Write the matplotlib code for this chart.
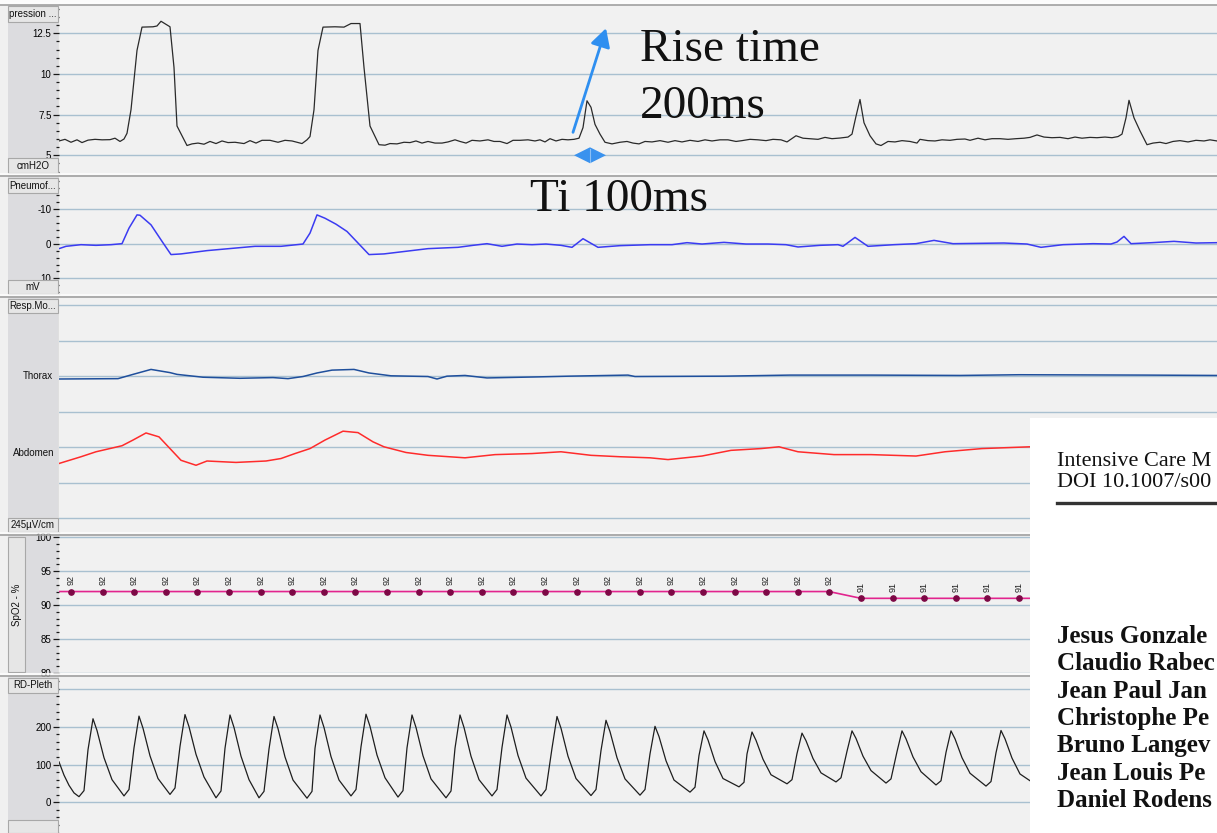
# ------------------------------------------------------------------------ #
#                                  MODULES                                 #
# ------------------------------------------------------------------------ #

import numpy as np
import matplotlib.pyplot as plt
from matplotlib.patches import Rectangle, Polygon
from matplotlib.ticker  import MultipleLocator

plt.rcParams['font.family'] = ['Liberation Sans', 'DejaVu Sans']

# ---------------------------------------------------------------------------- #
#                                   VARIABLES                                  #
# ---------------------------------------------------------------------------- #

W, H      = 1217, 833
N_SAMPLES = 1158

PLOT_BG = '#f1f1f1'
COL_BG  = '#dcdcdf'
BOX_BG  = '#e6e6e6'
GRID    = '#a9c0d0'
UI_FONT = 7

# mask pressure [cmH2O]
pres_t = [0, 6, 12, 18, 23, 29, 36, 43, 51, 56, 61, 65,
          68, 72, 78, 83, 94, 98, 102, 107, 111, 115, 118, 128,
          133, 139, 145, 151, 157, 163, 169, 176, 185, 191, 197, 203, 211, 219, 226, 233, 238, 243, 248,
          251, 255, 259, 264, 276, 285, 292, 301, 305, 311, 320, 326,
          331, 338, 345, 351, 357, 363, 369, 376, 383, 389, 396, 401, 407, 413, 421, 429,
          435, 441, 448, 454, 461, 469, 476, 481, 486, 491, 497, 503, 509, 515, 520,
          524, 528, 532, 536, 541, 546, 553, 561, 568, 574, 580,
          586, 593, 601, 609, 616, 623, 631, 639, 646, 653, 661, 669, 677, 683,
          691, 699, 707, 714, 722, 728, 737, 744, 751, 759, 766, 773, 781, 789,
          793, 797, 801, 805, 811, 817, 822,
          829, 836, 843, 851, 858, 861, 869, 876, 883, 891, 898, 906, 911, 919, 926, 933, 941,
          949, 957, 965, 971, 978, 985, 993, 1001, 1009, 1016, 1023, 1031, 1038, 1046, 1053, 1059,
          1063, 1067, 1070, 1075, 1081, 1088,
          1094, 1101, 1107, 1114, 1121, 1129, 1137, 1145, 1151, 1158]
pres_v = [5.88, 5.98, 5.80, 5.95, 5.78, 5.93, 5.98, 5.95, 5.96, 6.05, 5.85, 6.00,
          6.35, 7.80, 11.45, 12.88, 12.90, 12.95, 13.24, 13.05, 12.90, 10.40, 6.80, 5.60,
          5.70, 5.75, 5.68, 5.85, 5.72, 5.88, 5.78, 5.80, 5.72, 5.90, 5.75, 5.92, 5.92, 5.80, 5.92, 5.88, 5.80, 5.72, 5.95,
          6.15, 7.80, 11.45, 12.88, 12.90, 12.88, 13.10, 13.10, 10.40, 6.80, 5.65, 5.62,
          5.72, 5.70, 5.80, 5.78, 5.88, 5.75, 5.85, 5.75, 5.75, 5.82, 5.95, 5.85, 5.75, 5.92, 5.88, 5.95,
          5.85, 5.85, 5.72, 5.92, 5.92, 5.95, 5.88, 5.95, 5.82, 6.02, 5.88, 5.98, 5.95, 5.98, 6.05,
          6.70, 8.35, 7.95, 6.90, 6.30, 5.80, 5.70, 5.80, 5.85, 5.75, 5.70,
          5.85, 5.82, 5.90, 5.80, 5.90, 5.82, 5.92, 5.85, 5.95, 5.88, 5.95, 5.95, 5.85, 5.90,
          5.98, 5.95, 5.90, 5.98, 5.95, 5.82, 6.20, 6.05, 6.02, 5.98, 6.10, 6.02, 6.06, 6.12,
          6.30, 7.40, 8.43, 7.00, 6.20, 5.70, 5.60,
          5.85, 5.82, 5.90, 5.85, 5.75, 5.98, 5.90, 5.88, 5.95, 5.92, 5.98, 6.00, 5.92, 6.05, 5.95, 6.02, 6.02,
          5.98, 6.02, 6.05, 6.10, 6.25, 6.12, 6.08, 6.10, 6.02, 6.12, 6.05, 6.10, 6.08, 6.12, 6.08, 6.15,
          6.30, 7.30, 8.38, 7.30, 6.50, 5.65,
          5.75, 5.80, 5.72, 5.85, 5.90, 5.82, 5.92, 5.88, 5.95, 5.88]

# pneumotachograph [mV]
pneu_t = [0, 7, 22, 37, 52, 63, 70, 78, 81, 92, 103, 112, 122, 148, 170, 196, 222,
          244, 251, 258, 266, 277, 288, 299, 310, 325, 347, 369, 399, 414, 428, 443,
          458, 473, 487, 502, 513, 524, 539, 561, 591, 613, 628, 643, 665, 687, 709,
          727, 739, 761, 779, 784, 796, 809, 835, 857, 875, 894, 945, 968, 982, 1004,
          1034, 1052, 1058, 1065, 1072, 1093, 1115, 1137, 1158]
pneu_v = [1.43, 0.76, 0.29, 0.48, 0.29, 0.00, -4.48, -8.29, -8.19, -5.43, -0.67, 3.14, 2.95, 2.00, 1.43, 0.76, 0.76,
          0.10, -3.05, -8.29, -7.33, -5.62, -3.52, -0.19, 3.14, 2.95, 2.19, 1.43, 1.05, 0.48, 0.00, 0.76,
          0.10, 0.29, 0.10, 0.48, 1.05, -1.43, 1.05, 0.57, 0.29, 0.29, -0.29, 0.10, -0.38, 0.10, 0.10,
          0.29, 0.95, 0.48, 0.29, 0.76, -1.81, 0.76, 0.29, 0.00, -0.95, 0.00, -0.19, 0.10, 1.05, 0.29,
          0.00, 0.10, -0.48, -2.10, 0.00, -0.29, -0.67, -0.19, -0.29]

# respiratory bands, in grid divisions of 245 uV/cm
thorax_t = [0, 59, 74, 92, 111, 118, 144, 181, 214, 229, 244, 258, 273, 295, 310, 332,
            369, 378, 388, 406, 428, 480, 510, 569, 576, 665, 731, 812, 901, 960, 1086, 1158]
thorax_v = [3.92, 3.93, 4.05, 4.19, 4.10, 4.05, 3.97, 3.94, 3.96, 3.93, 3.99, 4.09, 4.17, 4.19, 4.09, 4.01,
            3.99, 3.92, 4.00, 4.02, 3.95, 3.98, 4.00, 4.03, 3.99, 4.00, 4.03, 4.03, 4.02, 4.04, 4.03, 4.02]

abdomen_t = [0, 22, 37, 63, 74, 87, 100, 111, 122, 137, 148, 177, 207, 222, 236, 251, 266, 284,
             299, 314, 325, 347, 369, 406, 436, 473, 502, 532, 561, 591, 609, 643, 672, 702,
             720, 739, 775, 812, 857, 886, 923, 971]
abdomen_v = [1.54, 1.73, 1.87, 2.04, 2.20, 2.40, 2.29, 1.96, 1.63, 1.49, 1.61, 1.57, 1.61, 1.68, 1.82, 1.96, 2.20, 2.45,
             2.41, 2.15, 2.01, 1.85, 1.77, 1.70, 1.79, 1.82, 1.87, 1.77, 1.73, 1.70, 1.65, 1.75, 1.91, 1.96,
             2.01, 1.87, 1.79, 1.79, 1.75, 1.87, 1.96, 2.01]

# SpO2 [%]
spo2_t = [12, 44, 75, 107, 138, 170, 202, 233, 265, 296, 328, 360, 391, 423, 454, 486,
          518, 549, 581, 612, 644, 676, 707, 739, 770, 802, 834, 865, 897, 928, 960]
spo2_v = [92, 92, 92, 92, 92, 92, 92, 92, 92, 92, 92, 92, 92, 92, 92, 92,
          92, 92, 92, 92, 92, 92, 92, 92, 92, 91, 91, 91, 91, 91, 91]
SPO2_END = 971

# plethysmograph
pleth_t = [0, 5, 10, 15,
           20, 25, 29, 34, 38, 45, 53,
           65, 70, 75, 80, 84, 91, 99,
           111, 116, 121, 126, 130, 137, 145,
           157, 162, 166, 171, 175, 182, 190,
           200, 205, 210, 215, 219, 226, 234,
           248, 253, 256, 261, 265, 272, 280,
           292, 297, 302, 307, 311, 318, 326,
           339, 344, 348, 353, 357, 364, 372,
           387, 392, 396, 401, 405, 412, 420,
           433, 438, 443, 448, 452, 459, 467,
           482, 487, 493, 498, 502, 509, 517,
           532, 537, 542, 547, 551, 558, 566,
           581, 586, 591, 596, 600, 607, 615,
           631, 636, 640, 645, 649, 656, 664,
           680, 685, 688, 693, 697, 704, 712,
           728, 733, 738, 743, 747, 754, 762,
           777, 782, 788, 793, 797, 804, 812,
           827, 832, 838, 843, 847, 854, 862,
           877, 882, 887, 892, 896, 903, 911,
           927, 932, 937, 942, 946, 953, 961,
           975]
pleth_v = [107, 72, 45, 25,
           15, 31, 139, 221, 190, 118, 60,
           17, 34, 144, 228, 196, 123, 63,
           21, 38, 148, 232, 200, 127, 67,
           12, 30, 143, 231, 198, 122, 60,
           12, 29, 141, 227, 195, 120, 59,
           11, 29, 143, 231, 198, 121, 59,
           17, 34, 147, 233, 201, 125, 65,
           14, 31, 144, 231, 198, 123, 62,
           12, 30, 143, 231, 198, 122, 60,
           17, 34, 145, 231, 199, 124, 64,
           17, 34, 143, 227, 196, 122, 63,
           18, 34, 137, 217, 187, 118, 62,
           19, 34, 128, 201, 174, 110, 59,
           27, 40, 124, 189, 165, 108, 63,
           41, 53, 128, 186, 164, 114, 73,
           49, 60, 129, 183, 163, 116, 78,
           54, 65, 135, 189, 169, 122, 84,
           51, 62, 134, 189, 168, 120, 81,
           46, 57, 132, 189, 168, 118, 77,
           43, 55, 131, 190, 168, 117, 75,
           50]

paper_header = ["Intensive Care M", "DOI 10.1007/s00"]
paper_authors = ["Jesus Gonzale", "Claudio Rabec", "Jean Paul Jan", "Christophe Pe",
                 "Bruno Langev", "Jean Louis Pe", "Daniel Rodens"]

# ---------------------------------------------------------------------------- #
#                                 SUBFUNCTIONS                                 #
# ---------------------------------------------------------------------------- #

fig = plt.figure(figsize=(W / 100, H / 100), dpi=100)
fig.patch.set_facecolor('#f0f0f0')


def px_axes(x0, y0, x1, y1, zorder):
    return fig.add_axes([x0 / W, 1 - y1 / H, (x1 - x0) / W, (y1 - y0) / H], zorder=zorder)


def canvas(zorder):
    ax = px_axes(0, 0, W, H, zorder)
    ax.set_xlim(0, W)
    ax.set_ylim(H, 0)
    ax.axis('off')
    return ax


def signal_axes(top, bottom, ylim, majors, labels, minor_step):
    ax = px_axes(59, top, W, bottom, zorder=1)
    ax.set_facecolor(PLOT_BG)
    ax.set_xlim(0, N_SAMPLES)
    ax.set_ylim(*ylim)
    for sp in ax.spines.values():
        sp.set_visible(False)
    ax.set_xticks([])
    ax.set_yticks(majors)
    ax.set_yticklabels(labels)
    if minor_step:
        ax.yaxis.set_minor_locator(MultipleLocator(minor_step))
        ax.tick_params(axis='y', which='major', length=4.5, width=0.9, color='#1a1a1a',
                       labelsize=UI_FONT, pad=1)
        ax.tick_params(axis='y', which='minor', length=2.2, width=0.9, color='#1a1a1a')
    else:
        ax.tick_params(axis='y', length=0, labelleft=False)
    ax.grid(axis='y', which='major', color=GRID, lw=1.0)
    ax.set_axisbelow(True)
    return ax


def label_box(ax, top, bottom, text, x0=8, x1=58, rotation=0):
    ax.add_patch(Rectangle((x0, top), x1 - x0, bottom - top, fc=BOX_BG, ec='#a8a8a8', lw=0.8))
    ax.text((x0 + x1) / 2, (top + bottom) / 2, text, ha='center', va='center',
            fontsize=UI_FONT, rotation=rotation, color='#111111')


# ---------------------------------------------------------------------------- #
#                                    LAYOUT                                    #
# ---------------------------------------------------------------------------- #

PANELS = {
    'pres' : (5, 173),
    'pneu' : (176, 294),
    'resp' : (297, 532),
    'spo2' : (535, 673),
    'pleth': (676, 833),
}

back  = canvas(0)
front = canvas(3)

back.add_patch(Rectangle((0, 0), W, 5, fc='#fbfbfb', ec='none'))
for name, (top, bottom) in PANELS.items():
    back.add_patch(Rectangle((8, top), 50, bottom - top, fc=COL_BG, ec='none'))
    back.plot([58.5, 58.5], [top, bottom], color='#9a9a9a', lw=1)
    front.plot([0, W], [top - 0.5, top - 0.5], color='#a0a0a0', lw=1.2)
    front.plot([0, W], [top - 2, top - 2], color='#fdfdfd', lw=1.2)

# ---------------------------------------------------------------------------- #
#                                   CHANNELS                                   #
# ---------------------------------------------------------------------------- #

# mask pressure
ax_pres = signal_axes(*PANELS['pres'], (3.91, 14.24), [5, 7.5, 10, 12.5],
                      ['5', '7.5', '10', '12.5'], 0.5)
ax_pres.plot(pres_t, pres_v, color='#2a2a2a', lw=0.9)
ax_pres.annotate('', xy=(547, 12.81), xytext=(514, 6.41),
                 arrowprops=dict(arrowstyle='-|>,head_length=0.55,head_width=0.3',
                                 color='#2f8ff0', lw=2, shrinkA=0, shrinkB=0,
                                 mutation_scale=20))
ax_pres.add_patch(Polygon([(515, 5.0), (531, 5.49), (547, 5.0), (531, 4.51)],
                          closed=True, fc='#3a92ee', ec='none', zorder=3))
ax_pres.plot([531, 531], [4.6, 5.4], color='#8cc0f5', lw=0.8, zorder=4)
label_box(front, 6, 22, 'pression ...')
label_box(front, 158, 173, 'cmH2O')

# pneumotachograph
ax_pneu = signal_axes(*PANELS['pneu'], (14.5, -19.5), [-10, 0, 10], ['-10', '0', '10'], 2)
ax_pneu.plot(pneu_t, pneu_v, color='#3b3bf2', lw=1.1)
label_box(front, 178, 193, 'Pneumof...')
label_box(front, 280, 294, 'mV')

# thorax / abdomen bands
ax_resp = signal_axes(*PANELS['resp'], (-0.39, 6.23), [0, 1, 2, 3, 4, 5, 6], [''] * 7, None)
ax_resp.plot(thorax_t, thorax_v, color='#1f4f9c', lw=1.1)
ax_resp.plot(abdomen_t, abdomen_v, color='#ff2b2b', lw=1.1)
label_box(front, 299, 313, 'Resp.Mo...')
label_box(front, 518, 532, '245µV/cm')
front.text(53, 376, 'Thorax', ha='right', va='center', fontsize=UI_FONT, color='#111111')
front.text(54, 453, 'Abdomen', ha='right', va='center', fontsize=UI_FONT, color='#111111')

# SpO2
ax_spo2 = signal_axes(*PANELS['spo2'], (80.45, 100.33), [80, 85, 90, 95, 100],
                      ['80', '85', '90', '95', '100'], 1)
ax_spo2.plot([0] + spo2_t + [SPO2_END], [spo2_v[0]] + spo2_v + [spo2_v[-1]],
             color='#e2248e', lw=1.2)
ax_spo2.plot(spo2_t, spo2_v, ls='none', marker='o', ms=3.8, color='#7d0845')
for t, v in zip(spo2_t, spo2_v):
    ax_spo2.annotate(str(v), (t, v), xytext=(0, 4.5), textcoords='offset points',
                     rotation=90, ha='center', va='bottom', fontsize=6.5, color='#222222')
label_box(front, 537, 672, 'SpO2 - %', x0=8, x1=25, rotation=90)

# plethysmograph
ax_pleth = signal_axes(*PANELS['pleth'], (-81, 334), [0, 100, 200, 300],
                       ['0', '100', '200', ''], 20)
ax_pleth.plot(pleth_t, pleth_v, color='#1e1e1e', lw=0.9)
label_box(front, 678, 693, 'RD-Pleth')
label_box(front, 820, 833, '')

# ---------------------------------------------------------------------------- #
#                                  ANNOTATIONS                                 #
# ---------------------------------------------------------------------------- #

serif = ['Liberation Serif', 'DejaVu Serif']
front.text(640, 61, 'Rise time', family=serif, fontsize=34, va='baseline', color='#111111')
front.text(640, 118, '200ms', family=serif, fontsize=34, va='baseline', color='#111111')
front.text(530, 211, 'Ti 100ms', family=serif, fontsize=34, va='baseline', color='#111111')

# journal page laid over the lower right corner
front.add_patch(Rectangle((1030, 418), W - 1030, H - 418, fc='white', ec='none', zorder=5))
for n, line in enumerate(paper_header):
    front.text(1057, 466 + 21 * n, line, family=serif, fontsize=16, va='baseline',
               color='#111111', zorder=6)
front.plot([1057, W], [503, 503], color='#333333', lw=2.4, zorder=6)
for n, name in enumerate(paper_authors):
    front.text(1057, 643 + 27.3 * n, name, family=serif, fontsize=18, weight='bold',
               va='baseline', color='#111111', zorder=6)

fig.savefig('out.png', dpi=100, facecolor=fig.get_facecolor())
